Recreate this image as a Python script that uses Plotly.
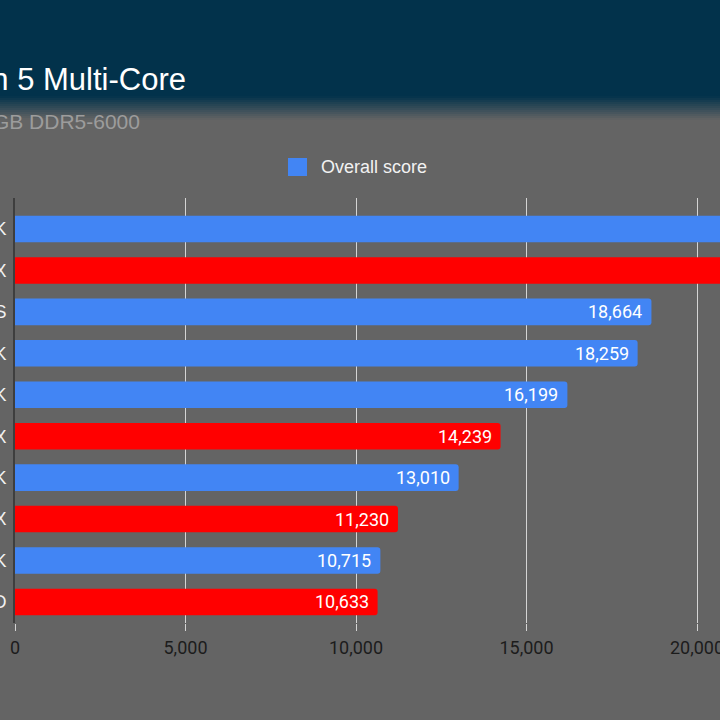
import plotly.graph_objects as go

# ---- data ----
cpus = ["Core i9-13900K", "Ryzen 9 7950X", "Core i9-12900KS", "Core i7-13700K",
        "Core i9-12900K", "Ryzen 7 7700X", "Core i5-13600K", "Ryzen 5 7600X",
        "Core i5-12600K", "Ryzen 7 5800X3D"]
scores = [24100, 22800, 18664, 18259, 16199, 14239, 13010, 11230, 10715, 10633]
vendors = ["Intel", "AMD", "Intel", "Intel", "Intel", "AMD", "Intel", "AMD", "Intel", "AMD"]
x_ticks = [0, 5000, 10000, 15000, 20000]
title_text = "Geekbench 5 Multi-Core"
subtitle_text = "Higher is better | 32GB DDR5-6000"
series_name = "Overall score"

vendor_colors = {"Intel": "#4285f4", "AMD": "#ff0000"}
colors = [vendor_colors[v] for v in vendors]

W, H = 720, 720
L, R, T, B = 15, 0, 198, 97
PW, PH = W - L - R, H - T - B


def px_x(p):
    return (p - L) / PW


def px_y(p):
    return (H - B - p) / PH


fig = go.Figure()
fig.add_trace(go.Bar(
    x=scores, y=cpus, orientation="h", name=series_name,
    marker=dict(color=colors, line=dict(width=0), cornerradius=3),
    width=0.64, showlegend=False, hoverinfo="x+y",
))

annotations = []
for c, v in zip(cpus, scores):
    annotations.append(dict(
        x=v, y=c, xref="x", yref="y", text=f"{v:,}", showarrow=False,
        xanchor="right", yanchor="middle", xshift=-7,
        font=dict(family="Roboto", size=18, color="#ffffff"),
    ))

# subtitle
annotations.append(dict(
    x=px_x(142), y=px_y(121), xref="paper", yref="paper", text=subtitle_text,
    showarrow=False, xanchor="right", yanchor="middle",
    font=dict(family="Liberation Sans, Arial", size=21, color="#9c9c9c"),
))
# legend text
annotations.append(dict(
    x=px_x(319), y=px_y(167), xref="paper", yref="paper", text=series_name,
    showarrow=False, xanchor="left", yanchor="middle",
    font=dict(family="Liberation Sans, Arial", size=18, color="#f2f2f2"),
))

shapes = []
# navy header band
shapes.append(dict(type="rect", xref="paper", yref="paper", layer="below",
                   x0=px_x(0), x1=1, y0=px_y(96), y1=px_y(0),
                   fillcolor="#02324b", line=dict(width=0)))
# soft transition from header to gray
navy = (2, 50, 75)
gray = (100, 100, 100)
steps = 12
for k in range(steps):
    f = (k + 0.5) / steps
    col = tuple(int(round(navy[j] + (gray[j] - navy[j]) * f)) for j in range(3))
    y_top = 96 + k * 2
    shapes.append(dict(type="rect", xref="paper", yref="paper", layer="below",
                       x0=px_x(0), x1=1, y0=px_y(y_top + 2), y1=px_y(y_top),
                       fillcolor=f"rgb{col}", line=dict(width=0)))
# legend square
shapes.append(dict(type="rect", xref="paper", yref="paper",
                   x0=px_x(288), x1=px_x(307), y0=px_y(176), y1=px_y(158),
                   fillcolor=vendor_colors["Intel"], line=dict(width=0)))

fig.update_layout(
    width=W, height=H,
    margin=dict(l=L, r=R, t=T, b=B, pad=0, autoexpand=False),
    paper_bgcolor="#646464",
    plot_bgcolor="rgba(0,0,0,0)",
    title=dict(text=title_text, xref="container", yref="container",
               x=186 / W, xanchor="right", y=1 - 79 / H, yanchor="middle",
               automargin=False,
               font=dict(family="Liberation Sans, Arial", size=31, color="#ffffff")),
    showlegend=False,
    annotations=annotations,
    shapes=shapes,
    bargap=0.36,
    xaxis=dict(
        range=[0, PW / ((697 - 15) / 20000)],
        tickvals=x_ticks, ticktext=[f"{t:,}" for t in x_ticks],
        showgrid=True, gridcolor="#d4d4d4", gridwidth=1.2,
        zeroline=False, showline=False,
        ticks="outside", ticklen=7, tickcolor="#d4d4d4", tickwidth=1.2,
        ticklabelstandoff=1, ticklabeloverflow="allow",
        automargin=False,
        tickfont=dict(family="Roboto", size=18, color="#1c1c1c"),
        fixedrange=True,
    ),
    yaxis=dict(
        range=[9.508, -0.748],
        showgrid=False, zeroline=False,
        showline=True, linecolor="#3e3e3e", linewidth=2,
        ticks="", ticklabelstandoff=3, ticklabeloverflow="allow",
        automargin=False,
        tickfont=dict(family="Liberation Sans, Arial", size=18, color="#f2f2f2"),
        fixedrange=True,
    ),
)

fig.write_html("out.html")
